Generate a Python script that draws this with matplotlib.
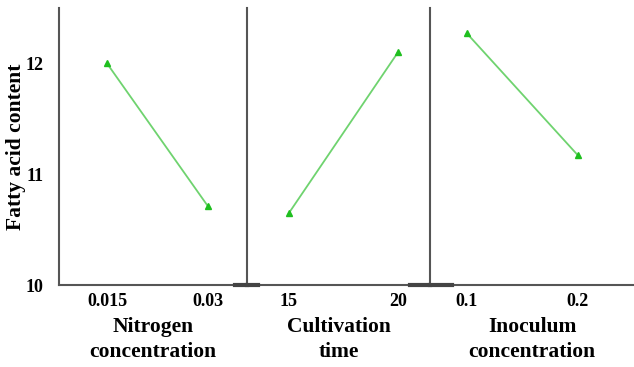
import matplotlib.pyplot as plt
import numpy as np

# main effects for fatty acid content
factors = ["Nitrogen\nconcentration", "Cultivation\ntime", "Inoculum\nconcentration"]
levels = [["0.015", "0.03"], ["15", "20"], ["0.1", "0.2"]]
means = [[12.0, 10.71], [10.65, 12.1], [12.27, 11.17]]

plt.rcParams['font.family'] = ['Liberation Serif', 'DejaVu Serif']
plt.rcParams['font.weight'] = 'bold'

fig = plt.figure(figsize=(6.34, 3.67), dpi=100)
widths = [188, 183, 204]
xlims = [(-0.475, 1.386), (-0.385, 1.294), (-0.333, 1.505)]
left, right = 59 / 634, 1.0
bottom, top = 1 - 285 / 367, 1 - 8 / 367
total = sum(widths)
x0 = left
axes = []
for i in range(3):
    w = (right - left) * widths[i] / total
    ax = fig.add_axes([x0, bottom, w, top - bottom])
    x0 += w
    axes.append(ax)

# dark bits of the x axis on each side of the panel dividers
seg_left = [None, 0.06, 0.108]
seg_right = [0.936, 0.891, None]

for i, ax in enumerate(axes):
    xs = np.arange(len(levels[i]))
    ax.plot(xs, means[i], color='#6fd36f', lw=1.3, zorder=2)
    ax.plot(xs, means[i], ls='none', marker='^', ms=5, color='#1fbf1f', zorder=3)
    ax.set_xlim(*xlims[i])
    ax.set_ylim(10, 12.5)
    ax.set_xticks(xs)
    ax.set_xticklabels(levels[i], fontsize=13, fontweight='bold')
    ax.set_xlabel(factors[i], fontsize=15.5, fontweight='bold', labelpad=5, linespacing=1.3)
    ax.spines['top'].set_visible(False)
    ax.spines['right'].set_visible(False)
    for s in ['left', 'bottom']:
        ax.spines[s].set_color('#555555')
        ax.spines[s].set_linewidth(1.5)
    ax.tick_params(axis='x', length=0, pad=6)
    ax.tick_params(axis='y', length=0, pad=11)
    if i == 0:
        ax.set_yticks([10, 11, 12])
        ax.set_yticklabels(['10', '11', '12'], fontsize=13, fontweight='bold')
        ax.set_ylabel('Fatty acid content', fontsize=15.5, fontweight='bold')
        ax.yaxis.set_label_coords(-0.178, 0.5)
    else:
        ax.set_yticks([])
    if seg_left[i] is not None:
        ax.plot([0, seg_left[i]], [0, 0], transform=ax.transAxes, color='#444444', lw=3,
                clip_on=False, zorder=4)
    if seg_right[i] is not None:
        ax.plot([seg_right[i], 1.0], [0, 0], transform=ax.transAxes, color='#444444', lw=3,
                clip_on=False, zorder=4)

fig.savefig('out.png', dpi=100)
